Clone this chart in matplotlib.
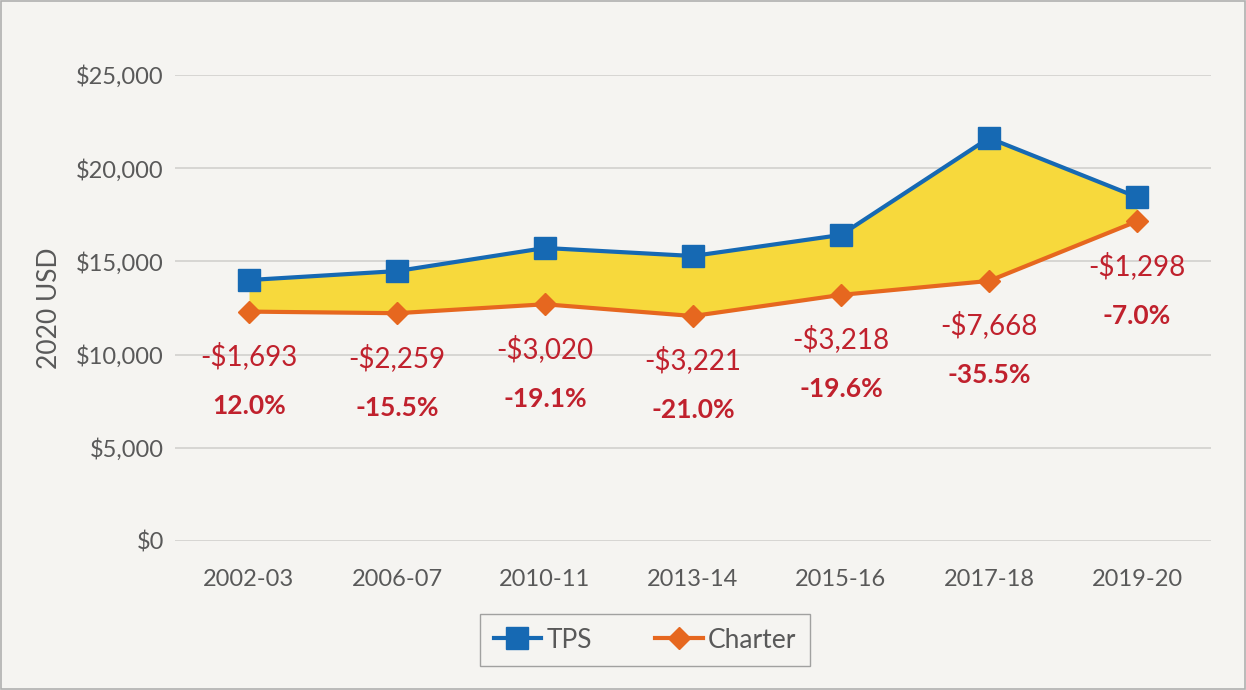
import numpy as np
import matplotlib.pyplot as plt
import matplotlib.patches as patches
from matplotlib.ticker import FuncFormatter

plt.rcParams['font.family'] = ['Lato', 'DejaVu Sans']

# Дані
years = ['2002-03', '2006-07', '2010-11', '2013-14', '2015-16', '2017-18', '2019-20']
tps = [14000, 14480, 15720, 15290, 16420, 21620, 18450]
charter = [12307, 12221, 12700, 12069, 13202, 13952, 17152]
gap_labels = ['-$1,693', '-$2,259', '-$3,020', '-$3,221', '-$3,218', '-$7,668', '-$1,298']
pct_labels = ['12.0%', '-15.5%', '-19.1%', '-21.0%', '-19.6%', '-35.5%', '-7.0%']

bg = '#F5F4F1'
blue = '#1669B3'
orange = '#E6671F'
yellow = '#F7D93C'
red = '#C0212D'
grey_txt = '#595959'

fig = plt.figure(figsize=(12.46, 6.9), dpi=100, facecolor=bg)
ax = fig.add_axes([175/1246, 1 - 541/690, (1211 - 175)/1246, (541 - 75)/690])
ax.set_facecolor('none')

x = np.arange(len(years))

# Заливка між лініями
ax.fill_between(x, charter, tps, color=yellow, zorder=1, linewidth=0)
ax.plot(x, tps, color=blue, lw=3, marker='s', ms=16, zorder=3, label='TPS')
ax.plot(x, charter, color=orange, lw=3, marker='D', ms=11, zorder=3, label='Charter')

# Підписи різниці та відсотків
for i in range(len(years)):
    ax.annotate(gap_labels[i], (x[i], charter[i]), xytext=(0, -32),
                textcoords='offset points', ha='center', va='center',
                color=red, fontsize=20)
    ax.annotate(pct_labels[i], (x[i], charter[i]), xytext=(0, -68),
                textcoords='offset points', ha='center', va='center',
                color=red, fontsize=19, fontweight='bold')

ax.set_xlim(-0.5, len(years) - 0.5)
ax.set_ylim(0, 25000)
ax.set_yticks(np.arange(0, 25001, 5000))
ax.yaxis.set_major_formatter(FuncFormatter(lambda v, p: f'${v:,.0f}'))
ax.set_xticks(x)
ax.set_xticklabels(years)
ax.tick_params(axis='both', length=0, labelsize=17, colors=grey_txt)
ax.tick_params(axis='x', pad=20)
ax.tick_params(axis='y', pad=8)
ax.grid(axis='y', color='#D2D1CD', lw=1.2, zorder=0)
ax.set_axisbelow(True)
for s in ax.spines.values():
    s.set_visible(False)

ax.set_ylabel('2020 USD', fontsize=19, color=grey_txt, labelpad=10)

leg = fig.legend(loc='center', bbox_to_anchor=(645/1246, 1 - 640/690), ncol=2,
                 fontsize=19, frameon=True, fancybox=False, handlelength=1.8,
                 columnspacing=2.4, borderpad=0.5, handletextpad=0.2,
                 borderaxespad=0)
leg.get_frame().set_edgecolor('#8C8C8C')
leg.get_frame().set_facecolor('none')
for t in leg.get_texts():
    t.set_color(grey_txt)

# Рамка навколо графіка
fig.patches.append(patches.Rectangle((0.001, 0.002), 0.998, 0.996, transform=fig.transFigure,
                                     fill=False, edgecolor='#B0B0B0', lw=1.2))

fig.savefig('out.png', dpi=100, facecolor=bg)
